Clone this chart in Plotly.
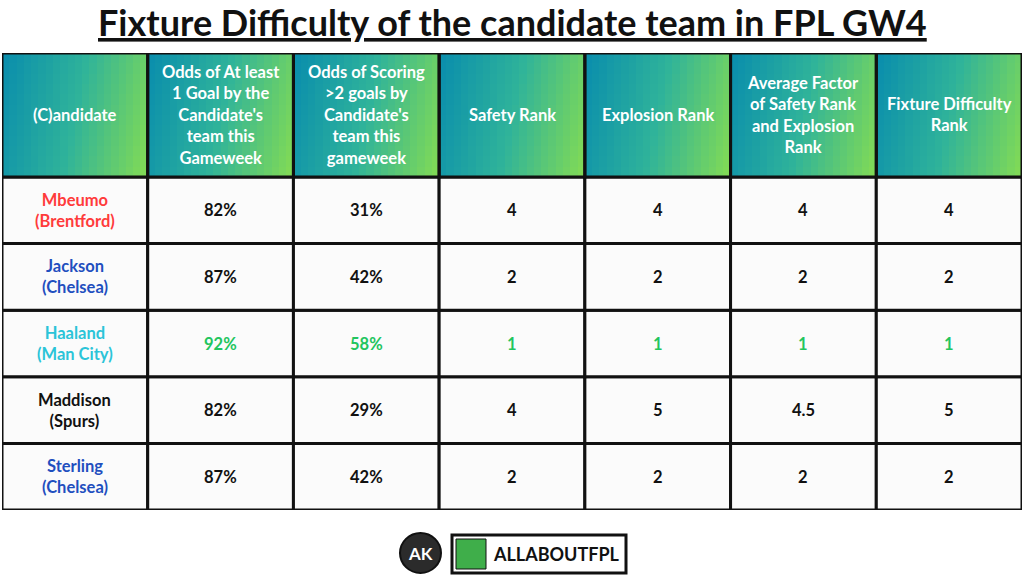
import plotly.graph_objects as go
import numpy as np

title = "Fixture Difficulty of the candidate team in FPL GW4"
headers = ["(C)andidate",
           "Odds of At least<br>1 Goal by the<br>Candidate's<br>team this<br>Gameweek",
           "Odds of Scoring<br>>2 goals by<br>Candidate's<br>team this<br>gameweek",
           "Safety Rank", "Explosion Rank",
           "Average Factor<br>of Safety Rank<br>and Explosion<br>Rank",
           "Fixture Difficulty<br>Rank"]
candidates = ["Mbeumo<br>(Brentford)", "Jackson<br>(Chelsea)", "Haaland<br>(Man City)",
              "Maddison<br>(Spurs)", "Sterling<br>(Chelsea)"]
odds_1goal = ["82%", "87%", "92%", "82%", "87%"]
odds_2goals = ["31%", "42%", "58%", "29%", "42%"]
safety_rank = ["4", "2", "1", "4", "2"]
explosion_rank = ["4", "2", "1", "5", "2"]
avg_factor = ["4", "2", "1", "4.5", "2"]
fdr = ["4", "2", "1", "5", "2"]

name_colors = ["#ff3b3b", "#1f4fbf", "#2bc4d8", "#111111", "#1f4fbf"]
value_colors = ["#111111", "#111111", "#22c55e", "#111111", "#111111"]

ncol, nrow = 7, 5
hh = 124 / 66.6
top = nrow + hh
FONT = "Lato"

fig = go.Figure()
nx, ny = 20 * ncol, 12
xs = (np.arange(nx) + 0.5) / 20
ys = nrow + (np.arange(ny) + 0.5) / ny * hh
fx = xs % 1
fy = (ys - nrow) / hh
Z = fx[None, :] * 0.85 + (1 - fy[:, None]) * 0.15
fig.add_trace(go.Heatmap(x=xs, y=ys, z=Z, showscale=False, hoverinfo="skip",
                         colorscale=[[0, "#0b8fac"], [0.5, "#2fb39a"], [1, "#7fd957"]]))

shapes = []
for r in range(nrow):
    for c in range(ncol):
        shapes.append(dict(type="rect", x0=c, x1=c + 1, y0=r, y1=r + 1, xref="x", yref="y",
                           fillcolor="#fbfbfb", line=dict(color="#111", width=3), layer="below"))
for c in range(ncol):
    shapes.append(dict(type="rect", x0=c, x1=c + 1, y0=nrow, y1=top, xref="x", yref="y",
                       fillcolor="rgba(0,0,0,0)", line=dict(color="#111", width=3)))

ann = []
for c, h in enumerate(headers):
    ann.append(dict(x=c + 0.5, y=nrow + hh / 2, xref="x", yref="y", text=h, showarrow=False,
                    yanchor="middle", font=dict(family=FONT, size=16.5, color="white", weight="bold"), align="center"))
cols = [candidates, odds_1goal, odds_2goals, safety_rank, explosion_rank, avg_factor, fdr]
for c, col in enumerate(cols):
    for i, v in enumerate(col):
        color = name_colors[i] if c == 0 else value_colors[i]
        ann.append(dict(x=c + 0.5, y=nrow - i - 0.5, xref="x", yref="y", text=v, showarrow=False,
                        yanchor="middle", font=dict(family=FONT, size=16.5, color=color, weight="bold"), align="center"))

ann.append(dict(x=0.5, y=1 - 22 / 576, xref="paper", yref="paper", text="<u>" + title + "</u>",
                showarrow=False, yanchor="middle",
                font=dict(family=FONT, size=36, color="#111", weight="bold")))

def px(x): return x / 1024
def py(y): return 1 - y / 576
shapes.append(dict(type="circle", xref="paper", yref="paper", x0=px(400), x1=px(441), y0=py(573), y1=py(533),
                   fillcolor="#2b2b2b", line=dict(color="#111", width=2)))
ann.append(dict(x=px(420.5), y=py(553), xref="paper", yref="paper", text="AK", showarrow=False,
                yanchor="middle", font=dict(family=FONT, size=17, color="white", weight="bold")))
shapes.append(dict(type="rect", xref="paper", yref="paper", x0=px(452), x1=px(626), y0=py(573), y1=py(535),
                   fillcolor="white", line=dict(color="#111", width=3)))
shapes.append(dict(type="rect", xref="paper", yref="paper", x0=px(456), x1=px(486), y0=py(569), y1=py(539),
                   fillcolor="#3fae4a", line=dict(color="#111", width=1)))
ann.append(dict(x=px(556), y=py(554), xref="paper", yref="paper", text="ALLABOUTFPL", showarrow=False,
                yanchor="middle", font=dict(family=FONT, size=18, color="#111", weight="bold")))

fig.update_layout(width=1024, height=576, margin=dict(l=0, r=0, t=0, b=0),
                  paper_bgcolor="white", plot_bgcolor="white", shapes=shapes, annotations=ann,
                  xaxis=dict(range=[0, ncol], domain=[2 / 1024, 1022 / 1024], visible=False, fixedrange=True),
                  yaxis=dict(range=[0, top], domain=[1 - 510 / 576, 1 - 53 / 576], visible=False, fixedrange=True))
fig.write_html("out.html", config={"displayModeBar": False},
               post_script="document.body.style.margin='0';document.body.style.overflow='hidden';")
